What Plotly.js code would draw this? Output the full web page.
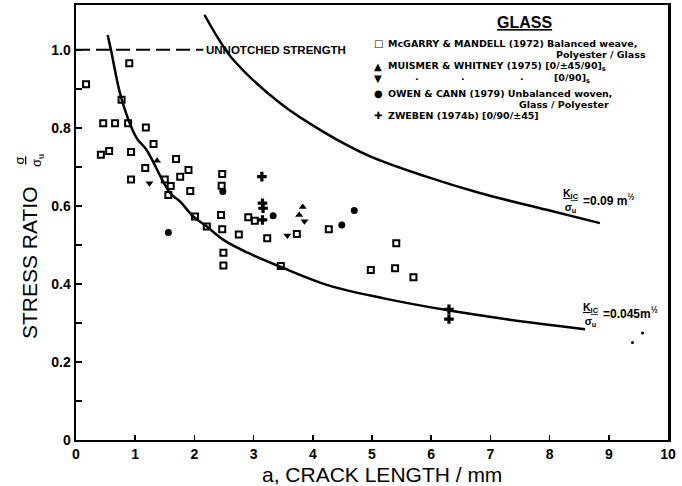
<!DOCTYPE html>
<html><head><meta charset="utf-8">
<script src="https://cdn.plot.ly/plotly-3.0.1.min.js"></script>
<style>html,body{margin:0;padding:0;background:#fff}#chart{width:682px;height:486px}</style>
</head><body><div id="chart"></div>
<script>
// ---- data ----
const mcgarryX = [0.17,0.90,0.77,0.46,0.66,0.88,1.18,0.42,0.56,0.93,1.31,1.69,1.17,1.90,0.93,1.50,1.76,1.60,1.56,1.93,2.47,2.46,2.45,2.01,2.21,2.47,2.75,2.91,3.02,3.23,2.49,2.49,3.73,4.27,3.46,4.98,5.41,5.39,5.70];
const mcgarryY = [0.912,0.966,0.872,0.812,0.812,0.812,0.801,0.731,0.741,0.738,0.759,0.720,0.697,0.692,0.668,0.668,0.675,0.651,0.628,0.638,0.682,0.652,0.577,0.573,0.547,0.540,0.527,0.571,0.562,0.517,0.480,0.447,0.528,0.540,0.446,0.436,0.504,0.440,0.417];
const muismerUpX = [1.37,3.83,3.77];
const muismerUpY = [0.716,0.597,0.577];
const muismerDownX = [1.24,3.57,3.86];
const muismerDownY = [0.658,0.524,0.561];
const owenX = [2.48,1.56,3.33,4.49,4.70];
const owenY = [0.637,0.532,0.575,0.551,0.588];
const zwebenX = [3.14,3.15,3.16,3.15,6.30,6.30];
const zwebenY = [0.675,0.607,0.594,0.564,0.335,0.310];
const strayX = [9.40,9.57];
const strayY = [0.250,0.274];
// K/sigma_u = 0.045 m^1/2 curve
const curveLowX = [0.535,0.59,0.77,1.025,1.19,1.59,1.76,1.98,2.21,2.49,2.90,3.45,4.25,5.20,6.26,7.16,8.60];
const curveLowY = [1.038,1.000,0.874,0.774,0.744,0.633,0.611,0.573,0.547,0.513,0.480,0.444,0.397,0.363,0.333,0.312,0.284];
// K/sigma_u = 0.09 m^1/2 curve
const curveHighX = [2.17,2.40,2.66,3.45,4.20,4.97,5.92,6.82,7.95,8.85];
const curveHighY = [1.090,1.030,0.974,0.863,0.788,0.727,0.675,0.633,0.590,0.556];
const unnotchedX = [0,2.15];
const unnotchedY = [1.0,1.0];
const xTickVals = [0,1,2,3,4,5,6,7,8,9,10];
const xTickText = ['0','1','2','3','4','5','6','7','8','9','10'];
const yTickVals = [0,0.2,0.4,0.6,0.8,1.0];
const yTickText = ['0','0.2','0.4','0.6','0.8','1.0'];
const yMinorVals = [0.1,0.3,0.5,0.7,0.9];

// ---- layout helpers (pixel -> paper) ----
const L=76, R=668, T=5, B=440;
const px = X => (X-L)/(R-L);
const py = Y => (B-Y)/(B-T);
const BF = {family:'Liberation Sans, Arial, sans-serif', color:'#000', weight:'bold'};

const traces = [
  {x:unnotchedX, y:unnotchedY, mode:'lines', line:{color:'#000', width:2, dash:'14px,6px'}, hoverinfo:'skip'},
  {x:curveLowX, y:curveLowY, mode:'lines', line:{color:'#000', width:2.5, shape:'spline', smoothing:1}, hoverinfo:'skip'},
  {x:curveHighX, y:curveHighY, mode:'lines', line:{color:'#000', width:2.5, shape:'spline', smoothing:1}, hoverinfo:'skip'},
  {x:mcgarryX, y:mcgarryY, mode:'markers', name:'McGarry & Mandell (1972)', marker:{symbol:'square-open', size:6, color:'#000', line:{width:2, color:'#000'}}},
  {x:muismerUpX, y:muismerUpY, mode:'markers', name:'Muismer & Whitney (1975) [0/±45/90]s', marker:{symbol:'triangle-up', size:7, color:'#000'}},
  {x:muismerDownX, y:muismerDownY, mode:'markers', name:'Muismer & Whitney (1975) [0/90]s', marker:{symbol:'triangle-down', size:7, color:'#000'}},
  {x:owenX, y:owenY, mode:'markers', name:'Owen & Cann (1979)', marker:{symbol:'circle', size:7, color:'#000'}},
  {x:zwebenX, y:zwebenY, mode:'markers', name:'Zweben (1974b)', marker:{symbol:'cross', size:8, color:'#000'}},
  {x:strayX, y:strayY, mode:'markers', marker:{symbol:'circle', size:3, color:'#000'}, hoverinfo:'skip'}
];

const ann = [];
function A(text, X, Y, opts){ ann.push(Object.assign({text:text, xref:'paper', yref:'paper', x:px(X), y:py(Y), showarrow:false, xanchor:'left', yanchor:'middle', font:Object.assign({}, BF, {size:10})}, opts||{})); }
const LF = {family:'DejaVu Sans, sans-serif', color:'#000', weight:'bold', size:9.5};
const SF = {family:'DejaVu Sans, sans-serif', color:'#000', weight:'bold', size:10};
const TF = {family:'Liberation Sans, Arial, sans-serif', color:'#000', size:21};
// legend
A('<u>GLASS</u>', 524, 22, {xanchor:'center', font:Object.assign({},BF,{size:16})});
A('□', 378, 43, {xanchor:'center', font:SF});
A('McGARRY & MANDELL (1972) Balanced weave,', 386, 43, {font:LF});
A('Polyester / Glass', 648, 55, {xanchor:'right', font:LF});
A('▲', 378, 66, {xanchor:'center', font:SF});
A('MUISMER & WHITNEY (1975) [0/±45/90]<sub>s</sub>', 386, 66, {font:LF});
A('▼', 378, 79, {xanchor:'center', font:SF});
A('·', 417, 78, {xanchor:'center', font:LF});
A('·', 463, 78, {xanchor:'center', font:LF});
A('·', 522, 78, {xanchor:'center', font:LF});
A('[0/90]<sub>s</sub>', 552, 79, {font:LF});
A('●', 378, 93, {xanchor:'center', font:SF});
A('OWEN & CANN (1979) Unbalanced woven,', 386, 93, {font:LF});
A('Glass / Polyester', 611, 104, {xanchor:'right', font:LF});
A('✚', 378, 116, {xanchor:'center', font:SF});
A('ZWEBEN (1974b) [0/90/±45]', 386, 115, {font:LF});
// reference line label
A('UNNOTCHED STRENGTH', 204, 50, {font:Object.assign({},BF,{size:11.5})});
// curve labels
A('<u>K<sub>IC</sub></u><br>σ<sub>u</sub>', 571, 201, {xanchor:'center', font:Object.assign({},BF,{size:10.5})});
A('=0.09 m<sup>½</sup>', 581, 200, {font:Object.assign({},BF,{size:12})});
A('<u>K<sub>IC</sub></u><br>σ<sub>u</sub>', 591, 315, {xanchor:'center', font:Object.assign({},BF,{size:10.5})});
A('=0.045m<sup>½</sup>', 601, 313, {font:Object.assign({},BF,{size:12})});
// axis titles
A('STRESS RATIO', 29, 263, {xanchor:'center', textangle:-90, font:TF});
A('<u>σ</u><br>σ<sub>u</sub>', 29, 161, {xanchor:'center', textangle:-90, font:Object.assign({},TF,{size:13})});
A('a, CRACK LENGTH / mm', 382, 474, {xanchor:'center', font:TF});

const layout = {
  width:682, height:486,
  margin:{l:L, r:682-R, t:T, b:486-B},
  paper_bgcolor:'#fff', plot_bgcolor:'#fff',
  showlegend:false,
  xaxis:{range:[0,10], tickvals:xTickVals, ticktext:xTickText, ticks:'inside', ticklen:5, tickwidth:1.5, tickcolor:'#000',
    showline:true, linewidth:2, linecolor:'#000', mirror:true, showgrid:false, zeroline:false,
    tickfont:Object.assign({},BF,{size:14})},
  yaxis:{range:[0,1.115], tickvals:yTickVals, ticktext:yTickText, ticks:'inside', ticklen:6, tickwidth:1.5, tickcolor:'#000',
    minor:{tickvals:yMinorVals, ticks:'inside', ticklen:6, tickwidth:1.5, tickcolor:'#000', showgrid:false},
    showline:true, linewidth:2.5, linecolor:'#000', mirror:true, showgrid:false, zeroline:false,
    tickfont:Object.assign({},BF,{size:14})},
  annotations:ann
};
Plotly.newPlot('chart', traces, layout, {staticPlot:true, displayModeBar:false});
</script></body></html>
